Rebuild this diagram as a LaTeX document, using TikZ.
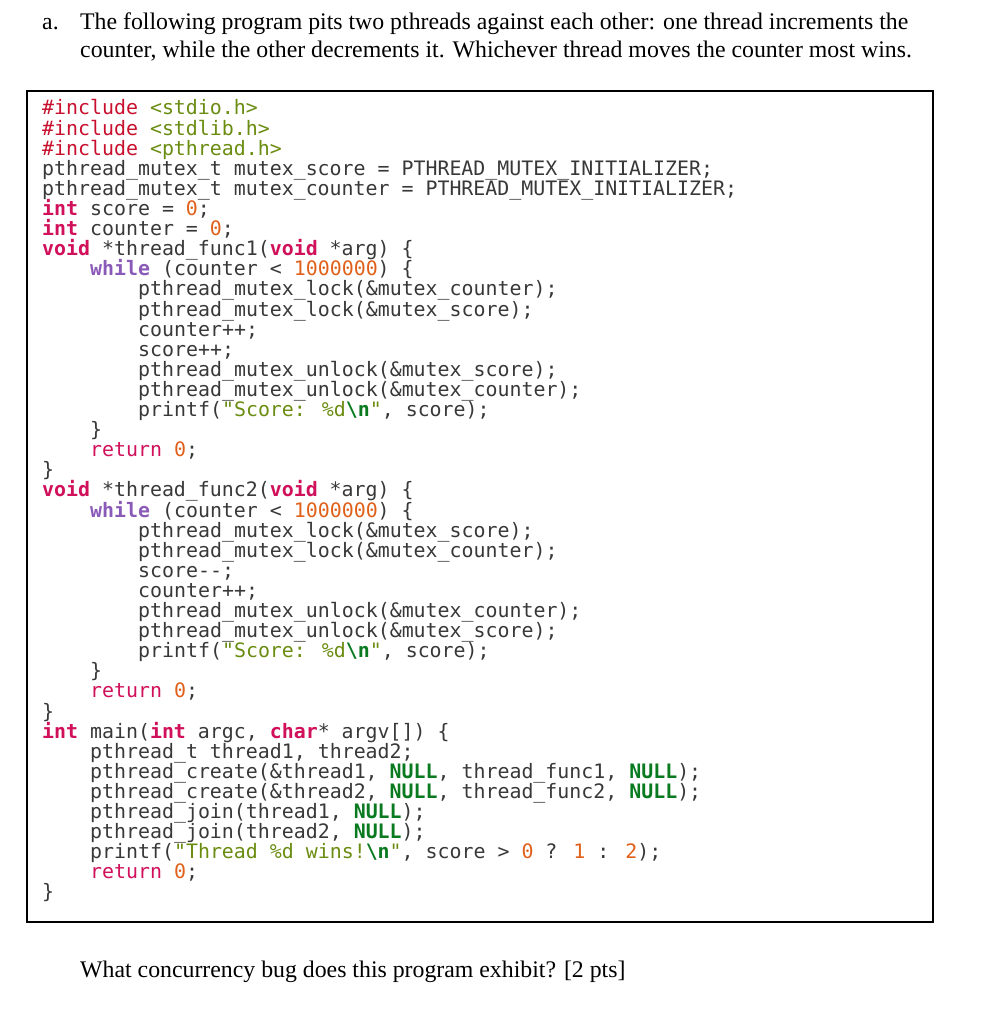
\documentclass[tikz,border=0pt]{standalone}
\usepackage{fontspec}
\setmainfont{Liberation Serif}
\newfontfamily\cmono{DejaVu Sans Mono}
\definecolor{ctext}{HTML}{383838}
\definecolor{cpre}{HTML}{C8102E}
\definecolor{cstr}{HTML}{6A8C10}
\definecolor{ckw}{HTML}{D0105A}
\definecolor{cwh}{HTML}{8A5AB8}
\definecolor{cnum}{HTML}{E0601A}
\definecolor{cnull}{HTML}{0A7A20}
\newcommand{\Pre}[1]{\textcolor{cpre}{#1}}
\newcommand{\Str}[1]{\textcolor{cstr}{#1}}
\newcommand{\Kw}[1]{\textcolor{ckw}{\bfseries #1}}
\newcommand{\Wh}[1]{\textcolor{cwh}{\bfseries #1}}
\newcommand{\Num}[1]{\textcolor{cnum}{#1}}
\newcommand{\Ret}{\textcolor{ckw}{return}}
\newcommand{\Nul}{\textcolor{cnull}{\bfseries NULL}}
\newcommand{\NL}{\textcolor{cnull}{\bfseries\textbackslash n}}
\newcommand{\I}{\hspace*{48pt}}
\begin{document}
\begin{tikzpicture}[x=1pt,y=1pt,
  code/.style={anchor=base west,inner sep=0pt,font=\cmono\fontsize{19.9}{20}\selectfont,text=ctext},
  prose/.style={anchor=base west,inner sep=0pt,font=\fontsize{23.8}{26}\selectfont}]
\useasboundingbox (0,0) rectangle (990,-1024);
\node[prose] (a) at (42,-30) {a.};
\node[prose] (h1) at (80,-30) {The following program pits two pthreads against each other: one thread increments the};
\node[prose] (h2) at (80,-58) {counter, while the other decrements it. Whichever thread moves the counter most wins.};
\draw[line width=2.5pt] (27,-91) rectangle (933,-922);
\foreach \n/\t in {
1/{\Pre{\#include} \Str{<stdio.h>}},
2/{\Pre{\#include} \Str{<stdlib.h>}},
3/{\Pre{\#include} \Str{<pthread.h>}},
4/{pthread\_mutex\_t mutex\_score = PTHREAD\_MUTEX\_INITIALIZER;},
5/{pthread\_mutex\_t mutex\_counter = PTHREAD\_MUTEX\_INITIALIZER;},
6/{\Kw{int} score = \Num{0};},
7/{\Kw{int} counter = \Num{0};},
8/{\Kw{void} *thread\_func1(\Kw{void} *arg) \{},
9/{\I\Wh{while} (counter < \Num{1000000}) \{},
10/{\I\I pthread\_mutex\_lock(\&mutex\_counter);},
11/{\I\I pthread\_mutex\_lock(\&mutex\_score);},
12/{\I\I counter++;},
13/{\I\I score++;},
14/{\I\I pthread\_mutex\_unlock(\&mutex\_score);},
15/{\I\I pthread\_mutex\_unlock(\&mutex\_counter);},
16/{\I\I printf(\Str{"Score: \%d}\NL\Str{"}, score);},
17/{\I\}},
18/{\I\Ret\ \Num{0};},
19/{\}},
20/{\Kw{void} *thread\_func2(\Kw{void} *arg) \{},
21/{\I\Wh{while} (counter < \Num{1000000}) \{},
22/{\I\I pthread\_mutex\_lock(\&mutex\_score);},
23/{\I\I pthread\_mutex\_lock(\&mutex\_counter);},
24/{\I\I score-{}-;},
25/{\I\I counter++;},
26/{\I\I pthread\_mutex\_unlock(\&mutex\_counter);},
27/{\I\I pthread\_mutex\_unlock(\&mutex\_score);},
28/{\I\I printf(\Str{"Score: \%d}\NL\Str{"}, score);},
29/{\I\}},
30/{\I\Ret\ \Num{0};},
31/{\}},
32/{\Kw{int} main(\Kw{int} argc, \Kw{char}* argv[]) \{},
33/{\I pthread\_t thread1, thread2;},
34/{\I pthread\_create(\&thread1, \Nul, thread\_func1, \Nul);},
35/{\I pthread\_create(\&thread2, \Nul, thread\_func2, \Nul);},
36/{\I pthread\_join(thread1, \Nul);},
37/{\I pthread\_join(thread2, \Nul);},
38/{\I printf(\Str{"Thread \%d wins!}\NL\Str{"}, score > \Num{0} ? \Num{1} : \Num{2});},
39/{\I\Ret\ \Num{0};},
40/{\}}}
  \node[code] (l\n) at (42,{-115-20.1*(\n-1)}) {\t};
\node[prose] (q) at (80,-977) {What concurrency bug does this program exhibit? [2 pts]};
\end{tikzpicture}
\end{document}
